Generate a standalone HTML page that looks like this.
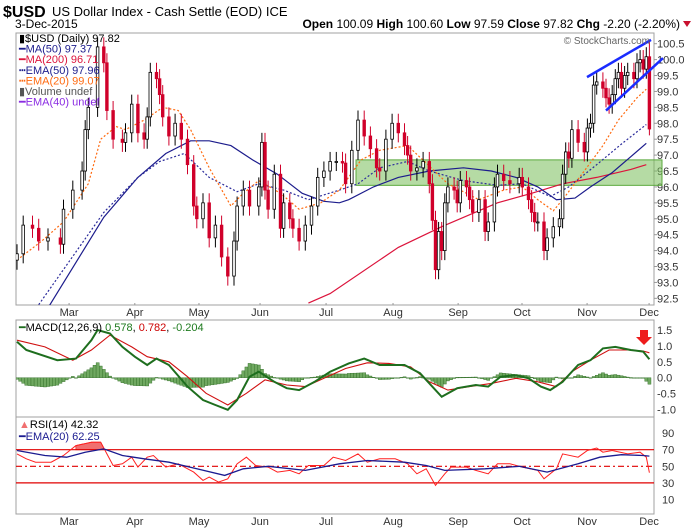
<!DOCTYPE html>
<html><head><meta charset="utf-8"><style>
html,body{margin:0;padding:0;background:#fff;}
svg{display:block;font-family:"Liberation Sans",sans-serif;}
</style></head><body>
<svg id="chart" width="700" height="530" viewBox="0 0 700 530" xmlns="http://www.w3.org/2000/svg">
<g>
<text x="3" y="17" font-size="16" font-weight="bold" fill="#000">$USD</text>
<text x="52" y="16" font-size="13" fill="#000">US Dollar Index - Cash Settle (EOD) ICE</text>
<text x="15" y="28" font-size="12" fill="#000">3-Dec-2015</text>
<text x="680" y="28" font-size="12" text-anchor="end" fill="#000"><tspan font-weight="bold">Open</tspan> 100.09 <tspan font-weight="bold">High</tspan> 100.60 <tspan font-weight="bold">Low</tspan> 97.59 <tspan font-weight="bold">Close</tspan> 97.82 <tspan font-weight="bold">Chg</tspan> -2.20 (-2.20%)</text>
<path d="M683 21 L691 21 L687 27 Z" fill="#c8102e"/>
</g>
<g id="main"></g>
<g id="macd"></g>
<g id="rsi"></g>
</svg>
<script>
// ---- price data (trading-day index, value) ----
const priceDays=[0,2,5,7,10,14,15,18,21,22,23,26,28,29,31,34,35,37,39,41,42,43,45,46,47,49,51,53,55,57,58,60,62,64,66,68,70,71,73,75,78,79,80,81,83,85,86,88,89,91,93,95,97,99,101,103,105,106,108,110,112,114,116,117,119,121,123,125,126,127,129,131,133,134,135,136,137,138,139,141,142,143,145,146,147,149,151,152,154,155,157,159,162,163,165,166,167,168,170,171,173,175,176,177,178,179,181,183,184,185,186,187,189,190,191,192,193,194,195,196,197,199,200,201,202,203,204];
const priceCloses=[93.9,94.8,94.7,94.3,94.4,94.2,95.3,95.9,96.5,97.8,98.5,100.4,99.9,98.4,97.5,97.4,97.7,98.6,97.7,97.5,98.2,99.6,99.4,98.9,98.2,97.6,98.0,97.5,96.7,95.4,95.0,95.5,94.4,94.8,93.8,93.2,94.3,95.4,95.9,95.4,96.0,97.4,95.9,95.3,96.4,94.7,95.5,95.0,94.7,94.3,94.8,95.4,96.3,96.5,96.8,96.8,96.75,96.1,97.15,98.1,97.6,97.2,96.6,96.5,97.5,98.0,97.7,97.3,97.0,96.5,96.6,96.8,96.1,94.95,93.4,94.6,94.0,95.5,96.0,95.9,95.5,96.2,96.0,95.6,95.2,95.6,94.6,94.9,96.0,96.4,96.2,96.1,96.3,96.0,95.6,95.2,94.9,94.9,94.0,94.4,94.75,95.0,96.4,97.1,96.9,97.8,97.4,97.1,97.85,98.0,99.2,99.3,99.1,98.8,98.6,98.9,99.4,99.6,99.1,99.5,99.6,99.4,99.9,100.0,99.7,100.09,97.82];
const ma50Days=[10,28,39,48,56,62,69,76,84,92,99,104,107,115,123,133,144,153,161,168,174,180,185,192,198,203];
const ma50Vals=[92.2,95.05,96.3,97.05,97.45,97.45,97.3,96.85,96.4,95.8,95.55,95.5,95.6,96.0,96.3,96.5,96.6,96.5,96.3,96.0,95.6,95.65,96.0,96.45,96.95,97.37];
const ema50Days=[7,28,39,46,54,62,71,78,86,94,104,110,117,126,133,144,155,163,172,178,187,195,203];
const ema50Vals=[92.3,95.2,96.3,96.8,97.05,96.3,95.85,96.1,95.9,95.6,95.9,96.1,96.6,96.8,96.5,96.2,96.05,96.1,95.7,96.0,96.7,97.35,97.96];
const ema20Days=[0,8,15,23,27,32,35,41,47,52,56,62,69,73,78,85,91,98,104,111,117,126,132,139,149,157,163,168,173,176,183,189,194,200,203];
const ema20Vals=[93.7,94.3,94.9,96.1,97.5,97.9,97.8,98.1,98.5,98.4,97.8,96.6,95.4,95.8,96.2,95.8,95.3,95.5,95.9,96.85,97.15,97.3,96.75,96.1,95.6,95.9,96.0,95.6,95.25,95.6,96.5,97.3,98.1,98.8,99.07];
const ma200Days=[94,101,123,137,155,166,176,187,198,203];
const ma200Vals=[92.35,92.65,94.1,94.75,95.5,95.8,96.1,96.3,96.55,96.7];
const priceTicks=[92.5,93.0,93.5,94.0,94.5,95.0,95.5,96.0,96.5,97.0,97.5,98.0,98.5,99.0,99.5,100.0,100.5];
const monthLabels=["Mar","Apr","May","Jun","Jul","Aug","Sep","Oct","Nov","Dec"];
const monthDays=[16.8,38,58.7,78.4,99.7,121.3,142.3,162.9,183.9,203.9];
// ---- MACD ----
const macdDays=[0,3,13,19,24,26,30,34,38,42,45,49,55,60,64,68,71,75,78,83,87,91,96,101,107,112,117,125,130,135,137,142,148,152,156,161,165,169,172,176,181,185,189,193,198,202,204];
const macdVals=[1.13,0.87,0.55,0.6,1.18,1.5,1.39,0.97,0.66,0.4,0.6,0.4,-0.28,-0.7,-0.86,-1.01,-0.7,0.03,0.19,-0.13,-0.33,-0.39,-0.13,0.19,0.45,0.6,0.4,0.4,0.14,-0.39,-0.6,-0.33,-0.23,-0.28,0.03,0.08,-0.02,-0.28,-0.39,-0.13,0.4,0.55,0.92,0.97,0.87,0.82,0.578];
const signalDays=[0,9,18,24,30,37,42,49,55,61,68,74,80,87,93,99,106,113,120,127,133,139,146,153,161,168,174,179,185,191,197,202,204];
const signalVals=[1.18,0.97,0.55,0.87,1.34,0.97,0.66,0.5,0.03,-0.49,-0.86,-0.49,-0.07,-0.23,-0.28,-0.02,0.29,0.47,0.45,0.34,-0.13,-0.39,-0.28,-0.18,-0.02,-0.13,-0.28,0.19,0.55,0.87,0.87,0.84,0.782];
const macdTicks=[1.5,1.0,0.5,0.0,-0.5,-1.0];
// ---- RSI ----
const rsiDays=[0,3,6,11,15,19,24,27,29,31,34,37,39,42,44,48,52,57,60,62,65,68,71,74,77,81,84,88,91,94,99,102,106,110,113,117,122,126,129,132,135,138,140,145,148,152,155,159,163,168,170,174,176,181,184,187,189,192,197,201,203,204];
const rsiVals=[65,59,55,55,63,75,79,79,65,51,53,61,49,61,63,49,53,43,33,37,31,35,53,61,51,49,43,45,41,51,51,61,57,65,55,59,59,53,41,47,27,41,49,49,45,41,53,53,49,45,35,47,65,61,69,72,67,69,65,67,61,42.32];
const rsiEmaDays=[0,9,16,22,28,34,41,49,58,67,73,81,93,104,113,125,132,138,151,162,171,181,188,195,202,204];
const rsiEmaVals=[69,63,61,67,71,63,59,55,47,39,47,50,45,53,57,55,51,45,47,50,43,53,61,64,63,62.25];
const rsiTicks=[90,70,50,30,10];

const NS="http://www.w3.org/2000/svg";
function el(tag,attrs,parent,text){const e=document.createElementNS(NS,tag);for(const k in attrs)e.setAttribute(k,attrs[k]);if(text!==undefined)e.textContent=text;parent.appendChild(e);return e;}
const L=16,R=654;
const xD=d=>17+d*3.1;
const yP=p=>43.7+(100.5-p)*31.83;
const yM=v=>377.7-v*31.8;
const yR=r=>466.3-(r-50)*0.83;
function lineD(days,vals,yf){return days.map((d,i)=>(i?'L':'M')+xD(d).toFixed(1)+' '+yf(vals[i]).toFixed(1)).join(' ');}
function interp(days,vals,d){if(d<=days[0])return vals[0];for(let i=1;i<days.length;i++){if(d<=days[i]){const t=(d-days[i-1])/(days[i]-days[i-1]);return vals[i-1]+t*(vals[i]-vals[i-1]);}}return vals[vals.length-1];}

// ===== MAIN PANEL =====
const main=document.getElementById('main');
el('defs',{},main).innerHTML='<clipPath id="cm"><rect x="16" y="33" width="638" height="272"/></clipPath><clipPath id="cmac"><rect x="16" y="320" width="638" height="97"/></clipPath>';
const frame=el('rect',{x:L,y:33,width:R-L,height:272,fill:'#fff',stroke:'#a0a0a0'},main);

priceTicks.forEach(p=>{const t=el('text',{x:657,y:yP(p)+4,'font-size':11,fill:'#333'},main,p.toFixed(1));

el('line',{x1:R,x2:R+3,y1:yP(p),y2:yP(p),stroke:'#999'},main);});
// support zone
const zone=el('rect',{x:356,y:yP(96.85),width:306,height:yP(96.05)-yP(96.85),fill:'rgba(120,190,90,0.55)',stroke:'#5aa83c','stroke-width':1},main);

const gm=el('g',{'clip-path':'url(#cm)'},main);
function addLine(days,vals,color,w,dash,name,g,yf){const p=el('path',{d:lineD(days,vals,yf||yP),fill:'none',stroke:color,'stroke-width':w},g);if(dash)p.setAttribute('stroke-dasharray',dash);return p;}
addLine(ma200Days,ma200Vals,'#dc143c',1.2,null,'ma200-line',gm);
addLine(ma50Days,ma50Vals,'#1c1c8c',1.2,null,'ma50-line',gm);
addLine(ema50Days,ema50Vals,'#2a2a9a',1.2,'2 2','ema50-line',gm);
addLine(ema20Days,ema20Vals,'#ff6a10',1.2,'2 2','ema20-line',gm);
// candles
priceDays.forEach((d,i)=>{
  const c=priceCloses[i];const o=i?priceCloses[i-1]:c-0.2;
  const up=c>=o;const x=xD(d);
  const hi=Math.max(o,c)+(i===priceDays.length-1?0.5:0.3),lo=Math.min(o,c)-(i===priceDays.length-1?0.2:0.3);
  const col=up?'#000':'#d0002a';
  const w=el('line',{x1:x,x2:x,y1:yP(hi),y2:yP(lo),stroke:col,'stroke-width':1},gm);
  
  const top=yP(Math.max(o,c)),h=Math.max(1,yP(Math.min(o,c))-top);
  const b=el('rect',{x:x-1.3,y:top,width:2.6,height:h,fill:up?'#fff':'#d0002a',stroke:col,'stroke-width':0.8},gm);
  
});
// wedge lines
const w1=el('line',{x1:587,y1:yP(99.45),x2:651,y2:yP(100.62),stroke:'#1a2cff','stroke-width':2.5},main);

const w2=el('line',{x1:606,y1:yP(98.4),x2:663,y2:yP(100.05),stroke:'#1a2cff','stroke-width':2.5},main);

const cr=el('text',{x:650,y:44,'font-size':10,'text-anchor':'end',fill:'#666'},main,'© StockCharts.com');

// legend
const leg=[['▮$USD (Daily) 97.82','#000'],['━MA(50) 97.37','#1c1c8c'],['━MA(200) 96.71','#dc143c'],['┅EMA(50) 97.96','#1c1c8c'],['┅EMA(20) 99.07','#ff6a10'],['▮Volume undef','#555'],['━EMA(40) undef','#8a2be2']];
const legNames=['legend-usd','legend-ma50','legend-ma200','legend-ema50','legend-ema20','legend-volume','legend-ema40'];
leg.forEach((l,i)=>{const t=el('text',{x:19,y:42+i*10.6,'font-size':11,fill:l[1]},main,l[0]);
});
// month labels
monthLabels.forEach((m,i)=>{
 const t=el('text',{x:xD(monthDays[i]),y:316,'font-size':11,'text-anchor':'middle',fill:'#333'},main,m);
 
 const t2=el('text',{x:xD(monthDays[i]),y:525,'font-size':11,'text-anchor':'middle',fill:'#333'},main,m);
 
 el('line',{x1:xD(monthDays[i]),x2:xD(monthDays[i]),y1:303,y2:305,stroke:'#999'},main);
});

// ===== MACD =====
const mg=document.getElementById('macd');
const mf=el('rect',{x:L,y:320,width:R-L,height:97,fill:'#fff',stroke:'#a0a0a0'},mg);

macdTicks.forEach(v=>{const t=el('text',{x:657,y:yM(v)+4,'font-size':11,fill:'#333'},mg,v.toFixed(1));
});
const gmc=el('g',{'clip-path':'url(#cmac)'},mg);
for(let d=0;d<=204;d++){
 const h=interp(macdDays,macdVals,d)-interp(signalDays,signalVals,d);
 const y0=yM(0),y1=yM(h);
 const b=el('rect',{x:xD(d)-1.5,y:Math.min(y0,y1),width:3.1,height:Math.max(0.6,Math.abs(y1-y0)),fill:'#6fa860',stroke:'#2d6b23','stroke-width':0.4},gmc);
 
}
addLine(signalDays,signalVals,'#d01010',1.1,null,'macd-signal-line',gmc,yM);
addLine(macdDays,macdVals,'#1e6e1e',2,null,'macd-line',gmc,yM);
const ml=el('text',{x:19,y:331,'font-size':11,fill:'#000'},mg);

ml.innerHTML='<tspan fill="#1e6e1e">━</tspan>MACD(12,26,9) <tspan fill="#1e7a1e">0.578</tspan>, <tspan fill="#c00">0.782</tspan>, <tspan fill="#1e7a1e">-0.204</tspan>';
const arr=el('path',{d:'M640 330 L648 330 L648 337 L652 337 L644 345 L636 337 L640 337 Z',fill:'#ee1c1c'},mg);


// ===== RSI =====
const rg=document.getElementById('rsi');
const rf=el('rect',{x:L,y:417,width:R-L,height:97,fill:'#fff',stroke:'#a0a0a0'},rg);

rsiTicks.forEach(v=>{const t=el('text',{x:662,y:yR(v)+4,'font-size':11,fill:'#333'},rg,String(v));
});
// overbought fill
let fd='M'+xD(19)+' '+yR(70);
for(let d=19;d<=28;d++){fd+=' L'+xD(d).toFixed(1)+' '+yR(Math.max(70,interp(rsiDays,rsiVals,d))).toFixed(1);}
fd+=' L'+xD(28)+' '+yR(70)+' Z';
const of=el('path',{d:fd,fill:'#f07070',stroke:'#e03030','stroke-width':0.8},rg);

[[70,null,'rsi-70-line'],[30,null,'rsi-30-line'],[50,'6 3 2 3','rsi-50-line']].forEach(a=>{
 const l=el('line',{x1:L,x2:R,y1:yR(a[0]),y2:yR(a[0]),stroke:'#e00000','stroke-width':1.2},rg);
 if(a[1])l.setAttribute('stroke-dasharray',a[1]);
 });
addLine(rsiDays,rsiVals,'#ff2020',1,null,'rsi-line',rg,yR);
addLine(rsiEmaDays,rsiEmaVals,'#1a1a90',1.3,null,'rsi-ema-line',rg,yR);
const rl1=el('text',{x:19,y:428,'font-size':11,fill:'#000'},rg);

rl1.innerHTML='<tspan fill="#f07070">▲</tspan>RSI(14) 42.32';
const rl2=el('text',{x:19,y:440,'font-size':11,fill:'#1a1a90'},rg,'━EMA(20) 62.25');

</script>
</body></html>
